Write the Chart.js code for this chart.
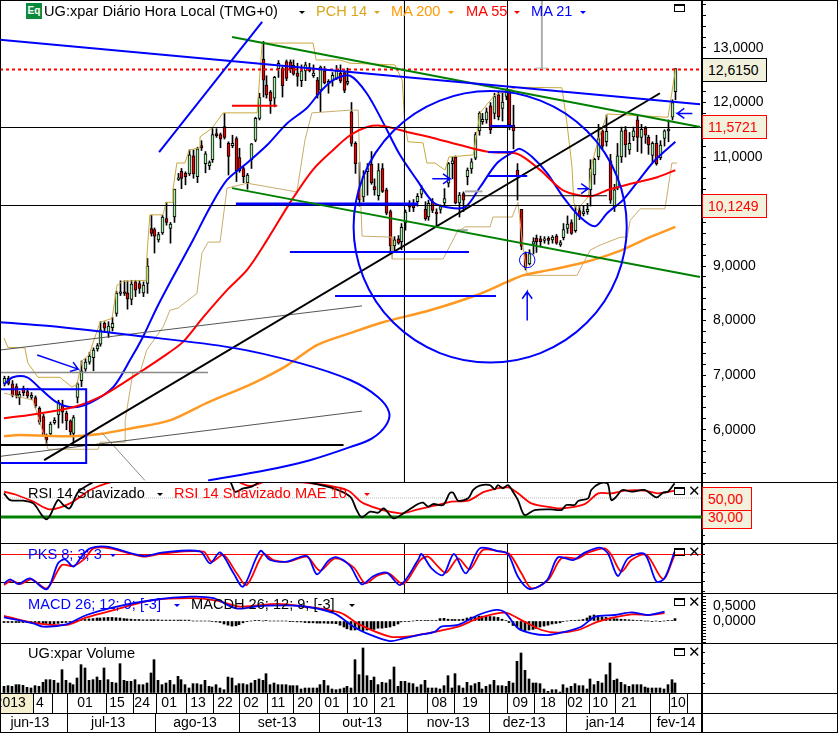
<!DOCTYPE html>
<html>
<head>
<meta charset="utf-8">
<title>UG:xpar</title>
<script src="https://cdn.jsdelivr.net/npm/chart.js@4/dist/chart.umd.min.js"></script>
<style>
    html, body { margin: 0; padding: 0; background: #fff; overflow: hidden; }
    #page { position: relative; width: 838px; height: 733px; font: 14.6px "Liberation Sans", Arial, sans-serif; }
    canvas { position: absolute; left: 0; }
    .txt { position: absolute; white-space: nowrap; line-height: 16px; z-index: 5; }
    .tri { position: absolute; z-index: 5; width: 0; height: 0; border-left: 3px solid transparent; border-right: 3px solid transparent; border-top: 3px solid; }
    .box { position: absolute; left: 702px; width: 65px; box-sizing: border-box; background: #f2f2dc; border: 1px solid #f00; color: #f00; text-align: left; padding-left: 5px; z-index: 5; font-size: 14px; }
    .win { position: absolute; left: 674px; width: 11px; height: 8px; box-sizing: border-box; border: 1px solid #000; border-top-width: 2px; z-index: 5; }
    .cls { position: absolute; left: 688px; font: bold 15px "DejaVu Sans"; line-height: 12px; z-index: 5; }
</style>
</head>
<body>
<div id="page">
    <div style="position:absolute;left:0;top:694px;width:33px;height:19px;background:#f5f0d0"></div>
    <canvas id="mainChart" width="838" height="482" style="top:0"></canvas>
    <canvas id="rsiChart" width="838" height="61" style="top:482px"></canvas>
    <canvas id="pksChart" width="838" height="50" style="top:543px"></canvas>
    <canvas id="macdChart" width="838" height="50" style="top:593px"></canvas>
    <canvas id="volChart" width="838" height="90" style="top:643px"></canvas>

    <div style="position:absolute;left:26px;top:3px;width:16px;height:16px;background:#0a8a3a;color:#fff;font:bold 10px 'Liberation Sans';line-height:16px;text-align:center;z-index:5">Eq</div>
    <div class="txt" style="left:44px;top:3px">UG:xpar Diário Hora Local (TMG+0)</div><div class="tri" style="left:299px;top:11px"></div>
    <div class="txt" style="left:316px;top:3px;color:#daa520">PCH 14</div><div class="tri" style="left:374px;top:11px;color:#daa520"></div>
    <div class="txt" style="left:391px;top:3px;color:#ff9900">MA 200</div><div class="tri" style="left:448px;top:11px;color:#ff9900"></div>
    <div class="txt" style="left:466px;top:3px;color:#f00">MA 55</div><div class="tri" style="left:514px;top:11px;color:#f00"></div>
    <div class="txt" style="left:531px;top:3px;color:#00f">MA 21</div><div class="tri" style="left:580px;top:11px;color:#00f"></div>

    <div class="txt" style="left:28px;top:485px">RSI 14 Suavizado</div><div class="tri" style="left:157px;top:493px"></div>
    <div class="txt" style="left:174px;top:485px;color:#f00">RSI 14 Suavizado MAE 10</div><div class="tri" style="left:364px;top:493px;color:#f00"></div>
    <div class="txt" style="left:28px;top:546px;color:#00f">PKS 8; 3; 3</div><div class="tri" style="left:110px;top:554px;color:#00f"></div>
    <div class="txt" style="left:28px;top:596px;color:#00f">MACD 26; 12; 9; [-3]</div><div class="tri" style="left:174px;top:604px;color:#00f"></div>
    <div class="txt" style="left:191px;top:596px">MACDH 26; 12; 9; [-3]</div><div class="tri" style="left:349px;top:604px"></div>
    <div class="txt" style="left:28px;top:645px">UG:xpar Volume</div>

    <div class="box" style="top:58px;height:24px;line-height:22px;border-color:#000;color:#000">12,6150</div>
    <div class="box" style="top:115px;height:24px;line-height:22px">11,5721</div>
    <div class="box" style="top:194px;height:24px;line-height:22px">10,1249</div>
    <div class="box" style="top:487px;width:50px;height:24px;line-height:22px">50,00</div>
    <div class="box" style="top:510px;width:50px;height:19px;line-height:13px">30,00</div>

    <div class="win" style="top:4px"></div>
    <div class="win" style="top:487px"></div><div class="cls" style="top:485px">✕</div>
    <div class="win" style="top:548px"></div><div class="cls" style="top:546px">✕</div>
    <div class="win" style="top:598px"></div><div class="cls" style="top:596px">✕</div>
    <div class="win" style="top:648px"></div><div class="cls" style="top:646px">✕</div>
</div>
<script>
// Candles, one entry per session
const open = [6.85,6.94,6.84,6.79,6.59,6.76,6.70,6.59,6.59,6.39,
    6.24,5.87,5.92,6.13,6.27,6.45,6.30,6.16,5.93,6.59,
    6.90,7.11,7.24,7.32,7.48,7.57,7.95,7.78,7.87,8.13,
    8.50,8.53,8.51,8.39,8.71,8.68,8.51,8.68,9.69,9.67,
    9.48,9.61,9.87,9.69,9.90,10.59,10.74,10.70,10.69,11.02,
    10.64,11.21,10.88,10.84,10.95,11.43,11.41,11.56,11.25,11.21,
    11.34,10.99,10.79,10.53,10.95,11.31,11.71,12.79,12.32,12.19,
    12.08,12.62,12.62,12.75,12.74,12.68,12.54,12.40,12.58,12.63,
    12.49,12.41,12.23,12.58,12.35,12.40,12.44,12.54,12.55,12.35,
    11.83,11.25,10.41,10.27,10.73,10.87,10.46,10.29,10.79,10.40,
    10.00,9.37,9.50,9.45,9.79,10.12,10.12,10.18,10.32,10.04,
    9.90,10.18,9.99,10.04,10.16,10.52,10.88,11.00,10.16,10.33,
    10.64,10.78,10.98,11.48,11.65,11.68,11.94,11.80,12.14,11.89,
    12.11,12.20,11.58,10.76,10.04,9.23,9.04,9.40,9.51,9.50,
    9.47,9.51,9.48,9.55,9.39,9.52,9.69,9.80,9.65,10.02,
    9.96,10.00,10.40,10.67,11.00,11.48,11.28,10.93,10.09,10.43,
    11.00,11.50,11.13,11.37,11.68,11.36,11.53,11.36,11.03,11.25,
    10.99,11.34,11.48,11.73,12.20];
const close = [6.94,6.85,6.63,6.63,6.65,6.68,6.62,6.63,6.44,6.14,
    5.90,5.81,6.10,6.17,6.50,6.32,6.16,5.96,6.22,6.84,
    7.08,7.24,7.35,7.46,7.54,7.83,7.86,7.90,7.95,8.50,
    8.53,8.50,8.40,8.67,8.56,8.59,8.65,9.00,9.60,9.55,
    9.58,9.90,9.80,9.77,10.41,10.62,10.61,10.64,11.04,10.69,
    11.15,11.17,11.06,10.90,11.41,11.39,11.33,11.36,11.01,11.25,
    10.75,10.75,10.64,10.67,11.24,11.71,12.09,12.41,12.14,12.03,
    12.46,12.72,12.31,12.44,12.62,12.52,12.48,12.58,12.69,12.58,
    12.54,12.14,12.65,12.36,12.39,12.50,12.58,12.39,12.22,12.39,
    11.25,10.88,10.22,10.64,10.79,10.53,10.40,10.75,10.37,9.97,
    9.37,9.48,9.42,9.71,9.99,10.08,10.07,10.28,10.41,9.87,
    10.15,10.02,9.96,10.09,10.24,10.88,10.93,10.16,10.30,10.21,
    10.76,10.91,11.41,11.80,11.69,11.83,11.50,12.11,11.74,12.01,
    12.22,11.59,11.48,10.64,9.36,8.97,9.23,9.45,9.45,9.45,
    9.50,9.47,9.53,9.42,9.43,9.67,9.77,9.60,9.98,9.91,
    10.00,10.04,10.79,10.96,11.34,11.20,11.47,10.21,10.40,11.02,
    11.48,11.22,11.25,11.48,11.36,11.51,11.40,11.22,11.25,10.88,
    11.22,11.48,11.51,12.00,12.62];
const high = [6.98,6.98,6.90,6.84,6.70,6.80,6.76,6.68,6.62,6.42,
    6.28,5.92,6.14,6.22,6.54,6.54,6.34,6.18,6.26,6.86,
    7.26,7.30,7.42,7.50,7.58,7.98,7.98,7.98,8.06,8.54,
    8.73,8.73,8.73,8.74,8.74,8.74,8.71,9.14,9.93,9.70,
    9.62,9.93,10.17,9.80,10.41,10.70,10.79,10.73,11.13,11.13,
    11.18,11.30,11.10,10.93,11.52,11.52,11.44,11.80,11.28,11.40,
    11.37,11.16,10.82,10.70,11.25,11.73,12.17,13.12,12.49,12.22,
    12.48,12.77,12.65,12.78,12.78,12.78,12.72,12.69,12.74,12.72,
    12.69,12.46,12.67,12.66,12.42,12.55,12.68,12.69,12.58,12.63,
    12.00,11.28,10.90,10.75,10.88,11.10,10.60,10.88,10.88,10.43,
    10.03,9.54,9.56,9.78,10.03,10.20,10.22,10.33,10.48,10.18,
    10.21,10.24,10.05,10.12,10.42,10.90,11.00,11.02,10.35,10.36,
    10.80,10.97,11.45,11.83,11.80,11.90,12.00,12.17,12.20,12.20,
    12.25,12.24,11.95,10.88,10.04,9.26,9.30,9.52,9.57,9.55,
    9.54,9.54,9.56,9.58,9.47,9.78,9.92,9.85,10.10,10.10,
    10.10,10.15,10.95,10.98,11.60,11.50,11.77,11.05,10.50,11.25,
    11.55,11.56,11.45,11.55,11.77,11.60,11.56,11.40,11.28,11.40,
    11.30,11.50,11.68,12.05,12.62];
const low = [6.80,6.82,6.60,6.58,6.46,6.62,6.58,6.55,6.40,6.10,
    5.88,5.72,5.88,6.10,6.03,6.12,6.00,5.90,5.78,6.49,
    6.79,7.07,7.20,7.08,7.44,7.53,7.78,7.69,7.81,8.08,
    8.46,8.46,8.21,8.29,8.44,8.50,8.44,8.50,9.55,9.24,
    9.44,9.58,9.75,9.42,9.80,10.57,10.42,10.49,10.66,10.61,
    10.53,11.12,10.71,10.77,10.90,11.36,11.17,11.33,10.67,11.17,
    10.55,10.72,10.53,10.41,10.79,11.28,11.68,12.10,12.08,11.80,
    11.92,12.46,12.10,12.40,12.55,12.50,12.30,12.29,12.40,12.56,
    12.46,12.08,11.83,12.34,12.17,12.30,12.42,12.36,12.18,12.32,
    11.20,10.70,10.10,10.18,10.30,10.50,10.30,10.21,10.35,9.94,
    9.23,9.26,9.40,9.30,9.66,10.00,10.00,10.10,10.25,9.84,
    9.84,9.98,9.72,9.97,10.10,10.45,10.60,10.14,9.90,10.00,
    10.49,10.70,10.95,11.40,11.60,11.62,11.43,11.70,11.68,11.66,
    12.05,11.50,11.15,10.21,9.30,8.93,9.02,9.22,9.25,9.37,
    9.42,9.40,9.42,9.40,9.36,9.48,9.60,9.58,9.62,9.85,
    9.92,9.95,10.10,10.50,10.95,11.15,11.20,10.15,10.00,10.40,
    10.90,11.00,11.05,11.30,11.10,11.07,11.25,11.05,10.90,10.85,
    10.95,11.20,11.28,11.68,12.05];

// Moving averages, read at knots: [session, price]
const ma21 = [[0,6.83],[2.3,6.96],[6,6.96],[9.3,6.76],[13.7,6.50],[17.9,6.41],[22.3,6.49],[28.3,6.78],[32.7,7.28],[36,7.70],[39.7,8.25],[43.8,8.80],[49,9.48],[53.4,10.08],[57.8,10.58],[63,10.89],[68.2,11.22],[73.4,11.62],[78.5,11.90],[81.9,12.19],[85.3,12.41],[89.7,12.49],[94,12.17],[98.2,11.64],[102.6,11.04],[107,10.58],[111.2,10.17],[114.8,10.08],[119.5,10.08],[123.4,10.45],[127.8,10.89],[131.9,11.09],[133.7,11.15],[136.9,11.00],[140.7,10.71],[144.9,10.27],[149.3,9.90],[153.2,9.73],[156.3,9.97],[160.4,10.21],[164.9,10.61],[168.7,10.94],[174,11.28]];
const ma55 = [[0,6.21],[7.5,6.28],[17.9,6.41],[24.9,6.60],[30.8,6.85],[36,7.09],[42.5,7.40],[46.4,7.61],[51.6,8.06],[57.8,8.56],[63,8.93],[68.2,9.48],[74.1,10.16],[80.1,10.77],[85.3,11.13],[89.7,11.40],[94.1,11.55],[98.2,11.57],[104.5,11.46],[111.2,11.35],[118.2,11.22],[126,11.09],[133,11.06],[139,10.76],[144.9,10.39],[151.9,10.28],[157,10.41],[163,10.52],[169.3,10.63],[174,10.76]];
const ma200 = [[0,5.88],[4.1,5.90],[17.9,5.88],[24.9,5.92],[33.4,6.03],[43,6.17],[52.6,6.49],[64.5,6.85],[73.4,7.18],[81.1,7.55],[89.7,7.77],[98.2,7.97],[110.4,8.19],[122.6,8.47],[130.4,8.71],[134.5,8.83],[141.5,8.93],[150,9.06],[158.9,9.26],[167.4,9.53],[174,9.72]];
const pchUpper = [[0,7.68],[1,7.51],[5.4,7.50],[6.2,7.22],[8.8,6.96],[14.5,6.96],[17.6,6.78],[18.9,6.83],[20.2,7.26],[22,7.37],[24.9,7.97],[28,8.04],[29.3,8.65],[30.8,8.72],[37,8.74],[37,9.15],[37.8,9.94],[41.2,9.94],[42,10.17],[43.8,10.17],[43.8,10.41],[44.8,10.89],[46.9,10.89],[48,11.13],[50.8,11.17],[50.8,11.37],[53.9,11.53],[56.8,11.81],[65.6,11.81],[66.9,13.09],[80.1,13.09],[80.9,12.78],[87.1,12.78],[89.7,12.72],[101.3,12.69],[103.2,12.41],[103.9,11.59],[104.7,11.28],[108.6,11.26],[109.6,10.89],[111.7,10.89],[114.3,10.76],[115.3,11.00],[121.6,11.04],[123.4,11.81],[125.2,11.97],[127.3,12.14],[133,12.28],[144.6,12.27],[145.9,11.62],[147.2,10.82],[147.7,10.16],[148.5,10.03],[151.4,10.27],[152.4,10.89],[154,11.31],[156.3,11.79],[172.1,11.73],[174,12.60]];
const pchLower = [[0,6.67],[4.1,6.60],[7.5,6.54],[10.1,5.95],[11.4,5.64],[24.4,5.64],[24.9,5.77],[31.4,5.77],[31.4,6.17],[33.4,7.04],[35.3,7.06],[37,7.46],[41.2,7.88],[43,8.19],[45.1,8.23],[50,8.50],[51.3,9.24],[52.9,9.44],[56,9.44],[57.8,10.43],[63,10.52],[75.9,10.36],[78,11.31],[79.8,11.81],[89.7,11.86],[91.8,11.86],[92.5,10.08],[92.8,9.55],[100.6,9.53],[100.6,9.13],[113.8,9.13],[117.4,9.62],[119.5,9.72],[126,9.72],[126.7,9.90],[131.7,9.90],[133.2,10.17],[134.5,9.35],[135.6,8.83],[148.5,8.83],[151.9,9.29],[154,9.37],[159.7,9.53],[161.5,9.53],[162.3,9.84],[164.9,10.05],[171.3,10.05],[173.1,10.89],[174.4,10.89]];

// Lines drawn by hand on the chart: [x1, p1, x2, p2, colour, width]
const trendLines = [
    [-1.04,13.15,180.4,11.97,'#0000ff',2],
    [40.2,11.09,66.9,13.48,'#0000ff',2],
    [59.1,13.20,180.4,11.55,'#008000',2],
    [59.1,10.43,180.4,8.80,'#008000',2],
    [59.1,11.94,70.8,11.94,'#ff0000',2],
    [60.1,10.14,107.3,10.14,'#0000ff',3],
    [74.1,9.26,120.5,9.26,'#0000ff',2],
    [85.8,8.45,127.5,8.45,'#0000ff',2],
    [126,11.57,132,11.57,'#0000ff',2],
    [125.5,11.09,132,11.09,'#0000ff',2],
    [125.5,10.65,135.6,10.65,'#0000ff',2],
    [10.4,5.44,170,12.17,'#000000',2],
    [-1.04,11.5416,180.9,11.5416,'#000000',1],
    [-1.04,10.111,180.9,10.111,'#000000',1],
    [-1.04,5.719,88,5.719,'#000000',2],
    [-1.04,7.46,92.8,8.27,'#555555',1],
    [-1.04,5.51,92.8,6.34,'#555555',1],
    [-1.04,7.05,52.9,7.05,'#888888',1.5],
    [25.4,5.94,36.5,5.07,'#888888',1],
    [119,10.29,156.3,10.29,'#000000',1],
    [103.79,13.88,103.79,5.04,'#000000',1],
    [130.49,13.88,130.49,5.04,'#000000',1],
    [139.4,13.88,139.4,12.63,'#a8b0a8',2],
    [137.8,12.63,141,12.63,'#a8b0a8',1],
    [119.5,10.37,124,10.37,'#aaaaaa',2],
    [117.4,9.66,120.2,9.66,'#aaaaaa',2],
    [-1.04,12.605,180.9,12.605,'#ff0000',2,[3,3]]
];
const blueBox = [[-1.04,6.74],[21.3,6.74],[21.3,5.39],[-1.04,5.39]];
const blueCurve = [[-1.04,7.97],[11.9,7.90],[33.4,7.73],[59.4,7.50],[76.7,7.22],[89.7,6.91],[96.9,6.60],[99.8,6.32],[99,6.08],[95.4,5.84],[89.7,5.68],[79.3,5.44],[68.2,5.26],[52.9,5.07]];
const arrows = [[8.6,7.37,19.2,7.11],[111,10.6,115.6,10.6],[148.6,10.42,151.4,10.42],[135.6,8.0,135.6,8.53],[178.4,11.8,174.5,11.8]];
// Ellipses: [centre session, centre price, radius in sessions, radius in price, width]
const ellipses = [[126,9.72,35.4,2.49,2],[135.6,9.11,2,0.14,1]];

// Lower panels, read at knots: [session, value]
const rsiLine = [[0,54.9],[1.6,47.8],[5,47.1],[7.6,44.3],[9.8,32],[11,27.5],[12,32],[14,47.8],[15.4,42.6],[17,39],[19.3,56.6],[23.2,67.1],[24.9,72.4],[42,79],[55,76],[58.6,67.1],[59.9,56.6],[62,60],[64.2,61.9],[67.2,68.9],[75,74],[78.5,67.1],[85.4,60.1],[89.7,51.4],[91.4,37.3],[92.7,29.6],[94.9,35.6],[97,34.5],[98.4,39],[101,28.5],[103.5,33.8],[107.3,43.6],[108.6,45],[109.9,40.8],[111.2,43.6],[113.8,42.6],[115.5,54.9],[116.4,55.6],[117.7,47.1],[120.3,49.6],[121.6,58.4],[123.3,62.9],[125.9,63.6],[127.2,59.1],[128,63.6],[129.3,60.1],[130.6,63.6],[131.9,56.6],[133.2,47.8],[134.9,32],[137.5,37.3],[141.9,38],[144.5,37.3],[145.7,42.6],[147.9,42.6],[148.8,46.8],[151.4,49.6],[152.2,58.4],[154.4,65.4],[156.4,65.4],[157.4,47.8],[158.7,51.4],[160.2,58.4],[162.6,56.6],[166,58.4],[169.1,50.6],[170.8,55.6],[172.1,56.6],[173.8,65.4]];
const rsiAvg = [[0,56.6],[3.3,53.1],[7.6,46.1],[11.9,38],[17.1,44.3],[22.3,58.4],[26.6,65.4],[33.5,70.7],[50.8,72.4],[59.5,68.9],[61.6,65.4],[63.8,62.6],[68.1,67.1],[78.5,66],[88.9,58.4],[93.2,44.3],[102.7,33.8],[107.3,38],[112.5,42.6],[116,46.1],[120.3,47.1],[124.6,56.6],[130.6,61.2],[133.2,54.9],[136.7,44.3],[141.9,40.1],[144.5,39],[150.5,43.6],[154,54.9],[157.4,54.9],[160.9,57.7],[166,57.7],[169.5,54.9],[173.8,57.7]];
const pksK = [[0,17],[1.6,25.7],[3.7,15.7],[6.7,27.9],[11.1,4.3],[14,60],[15.8,68.6],[18,52.9],[20.1,74.3],[22.3,92.1],[26.6,95.7],[36.1,75.7],[41.3,83.6],[50.8,85.7],[53.4,60],[56,83.6],[59.5,38.6],[62,10],[66.4,86.4],[69,67.1],[73.3,63.6],[78.5,75.7],[81.1,36.4],[84.1,65.7],[86.3,72.9],[89.7,54.3],[92.7,15],[95.8,32.9],[99.2,40],[102.7,13.6],[107.3,67],[108.2,80],[110.8,49.3],[113.8,35],[116.6,80],[119.7,38.6],[123.3,92.1],[128,86.4],[130.6,80],[133.2,31.4],[136.2,5],[140.6,22.2],[143.6,72.9],[147.5,67.1],[150.5,82.9],[154.4,93.6],[156.5,81.4],[159.1,32.9],[161.7,70.7],[166,80],[169.1,20.7],[171.2,27.9],[173.8,85]];
const pksD = [[0,13.6],[2,22.9],[4.2,15.7],[7.2,25.7],[11.1,6.5],[15,56.4],[18,54.3],[21,70.7],[23.2,92.1],[27.5,92.1],[36.1,74.3],[41.3,81.4],[51.7,85],[53.8,63.6],[56.9,77.9],[60.3,38.6],[62.9,13.6],[67.2,80],[69.8,67.1],[73.7,63.6],[78.5,74.3],[81.9,44.3],[85.8,70.7],[90.6,51.4],[93.6,17.2],[96.6,32.9],[99.7,38.6],[103.5,15.7],[107.9,67.1],[109.9,74.3],[112.5,52.9],[114.6,40],[117.7,70.7],[120.7,47.1],[124.1,88.6],[128,86.4],[131,80],[134.1,38.6],[136.7,6.5],[141,24.3],[144.5,70.7],[148.8,70.7],[151.4,82.9],[155.7,92.1],[157.4,77.9],[160,42.2],[162.6,67.1],[166.5,77.9],[170.8,26.5],[173.8,77.9]];
const macdLine = [[0,0.12],[7.6,-0.08],[10.2,-0.19],[16.2,-0.11],[21.4,0.2],[29.2,0.48],[38.7,0.7],[48.2,0.81],[54.3,0.76],[60.2,0.42],[66.4,0.5],[76.8,0.5],[85.4,0.26],[90.6,-0.19],[94,-0.41],[100,-0.67],[103.5,-0.58],[107.3,-0.47],[111.6,-0.36],[113.3,-0.19],[117.7,-0.13],[122.9,0.2],[127.6,0.37],[129.8,0.29],[133.2,-0.24],[136.7,-0.41],[141,-0.47],[145.3,-0.36],[149.6,-0.19],[153.1,0.14],[158.3,0.2],[162.6,0.29],[166.9,0.2],[171.2,0.31]];
const macdSignal = [[0,0.17],[7.6,-0.06],[16.2,-0.13],[21.4,0.12],[29.2,0.39],[37.9,0.68],[48.2,0.76],[55.1,0.68],[61.2,0.48],[70.7,0.57],[76.8,0.5],[87.1,0.28],[92.3,-0.13],[100,-0.52],[104.4,-0.52],[107.3,-0.47],[117.7,-0.19],[122.9,0.09],[129.8,0.28],[134.1,0.03],[139.3,-0.3],[143.6,-0.39],[148.8,-0.3],[154,-0.02],[162.6,0.22],[166.9,0.2],[171.2,0.26]];
const macdHist = [-.05,-.05,-.05,-.05,-.05,-.05,-.05,-.05,-.06,-.07,-.08,-.08,-.1,-.1,-.08,-.06,-.05,-.03,-.01,.02,
    .04,.05,.07,.08,.1,.1,.11,.12,.12,.11,.1,.08,.07,.06,.05,.05,.04,.04,.04,.04,.04,.03,.03,.03,.03,.03,.03,.03,.03,
    0,0,0,0,0,-.02,-.03,-.05,-.1,-.14,-.17,-.16,-.12,-.06,-.01,0,.01,.01,0,.01,0,0,0,0,0,
    -.01,-.02,-.03,-.03,-.05,-.06,-.06,-.07,-.07,-.07,-.08,-.08,-.09,-.14,-.2,-.26,-.3,-.3,-.28,-.32,-.3,-.26,-.28,-.24,-.24,-.22,-.2,-.16,
    -.1,-.03,-.02,-.02,0,.01,.02,.02,.02,.02,.02,.08,.09,.06,.05,.05,.05,.06,.1,.13,.14,.16,.16,.17,.15,.14,.12,
    .06,.02,-.05,-.15,-.2,-.3,-.32,-.3,-.28,-.25,-.2,-.17,-.14,-.1,-.08,-.06,-.02,0,.01,.01,.03,.05,.1,
    .17,.2,.18,.14,.12,.1,.08,.07,.06,.05,.04,.03,.02,.01,0,0,-.01,0,-.01,0,.01,.02,.08];
const volume = [20,22,20,25,25,23,17,15,22,20,32,40,40,38,30,70,38,30,25,45,85,75,38,40,48,38,75,40,32,30,88,38,35,35,40,25,25,30,60,100,
    38,25,30,38,25,50,40,25,15,28,28,25,38,20,18,25,15,10,48,45,22,28,28,25,30,38,42,38,58,25,30,25,25,25,22,22,22,12,15,15,
    15,15,25,38,22,12,10,12,15,20,15,100,55,135,52,38,48,25,32,30,40,78,20,35,35,30,28,18,
    25,38,15,15,15,12,22,52,15,58,22,15,32,22,28,32,12,20,25,38,22,22,20,35,30,95,120,68,42,30,
    30,28,12,5,10,10,3,25,15,20,28,22,22,12,42,25,35,30,55,90,38,42,32,25,20,25,25,25,18,15,15,15,15,12,25,40,30];

// Axis labels
const priceLabels = [6,7,8,9,10,11,12,13];
const macdLabels = [0,0.5];
const dayLabels = ['2013','4','01','15','24','01','13','22','02','11','20','01','10','21','08','19','09','18','02','10','21','10'];
const dayTicks = [1.6,9.3,21,29.3,35.8,42.8,50.3,57.3,64,71,78,85,92.3,99.5,112.8,120.8,133.8,141,148,154.5,162,174.7];
const dayEdges = [7.5,12.4,16.3,26.4,33.4,39.4,47.2,54.2,60.9,68.2,74.9,81.6,88.9,95.9,104.5,109.6,116.6,125.7,130.4,137.4,145.7,151.6,158.4,167.4,172.4,177];
const monthLabels = ['jun-13','jul-13','ago-13','set-13','out-13','nov-13','dez-13','jan-14','fev-14'];
const monthTicks = [6.7,27,49.5,70.8,92.8,115.1,134.8,155.8,174.2];
const monthEdges = [16.3,39.1,60.9,81.6,104.5,125.7,145.7,167.4];

const FONT = { family: '"Liberation Sans", Arial, sans-serif', size: 14 };
const X_MIN = -1.037, X_MAX = 180.9;
const PX_PER_BAR = 702 / (X_MAX - X_MIN);

function points(pairs) {
    return pairs.map(p => ({ x: p[0], y: p[1] }));
}

function lineSet(pairs, color, width, extra) {
    return Object.assign({
        type: 'line', data: points(pairs), borderColor: color, borderWidth: width,
        pointRadius: 0, fill: false, order: 1
    }, extra || {});
}

// Move a session onto a whole pixel so thin bars stay crisp, like the original platform
function snapBar(i, shift) {
    return (Math.round((i - X_MIN) * PX_PER_BAR) + shift) / PX_PER_BAR + X_MIN;
}

function barSet(values, color, thickness) {
    const shift = thickness % 2 ? 0.5 : 0;
    return {
        type: 'bar', data: values.map((v, i) => ({ x: snapBar(i, shift), y: v })), backgroundColor: color,
        barThickness: thickness, grouped: false, order: 5
    };
}

function xScale() {
    return { type: 'linear', min: X_MIN, max: X_MAX, offset: false, display: false };
}

// The scale keeps room for half a tick label at each end; the panels here run edge to edge
function dropPadding(s) {
    s.paddingTop = s.paddingBottom = s.paddingLeft = s.paddingRight = 0;
    if (s._margins) {
        s._margins.top = s._margins.bottom = s._margins.left = s._margins.right = 0;
    }
}

function yScale(min, max, tickValues, label, tickLength) {
    return {
        type: 'linear', position: 'right', min: min, max: max,
        afterFit: s => { dropPadding(s); s.width = 136; },
        afterBuildTicks: s => { s.ticks = tickValues.map(v => ({ value: v })); },
        grid: { drawOnChartArea: false, tickColor: '#000', tickLength: tickLength || 4 },
        border: { color: '#000', width: 2 },
        ticks: {
            autoSkip: false, padding: 7, color: '#000', font: FONT, maxRotation: 0,
            callback: label || (() => '')
        }
    };
}

function tickRange(from, to, step) {
    const out = [];
    for (let v = from; v <= to + 1e-9; v += step) out.push(Math.round(v * 1000) / 1000);
    return out;
}

// Full width rules between the panels, and the frame on the left
const panelFrame = {
    id: 'panelFrame',
    afterDraw(chart) {
        const ctx = chart.ctx;
        ctx.save();
        ctx.fillStyle = '#000';
        ctx.fillRect(0, 0, chart.width, 1);
        ctx.fillRect(0, 0, 1, chart.height);
        ctx.fillRect(chart.width - 1, 0, 1, chart.height);
        ctx.restore();
    }
};

// Ellipses drawn on the price scale
const ellipseLayer = {
    id: 'ellipseLayer',
    afterDatasetsDraw(chart) {
        const x = chart.scales.x, y = chart.scales.y, ctx = chart.ctx;
        ctx.save();
        ctx.strokeStyle = '#0000ff';
        ellipses.forEach(e => {
            const cx = x.getPixelForValue(e[0]), cy = y.getPixelForValue(e[1]);
            ctx.lineWidth = e[4];
            ctx.beginPath();
            ctx.ellipse(cx, cy, x.getPixelForValue(e[0] + e[2]) - cx, cy - y.getPixelForValue(e[1] + e[3]), 0, 0, Math.PI * 2);
            ctx.stroke();
        });
        ctx.restore();
    }
};

// Date rows under the volume panel
const dateRows = {
    id: 'dateRows',
    afterDraw(chart) {
        const x = chart.scales.x, xm = chart.scales.xm, ctx = chart.ctx;
        ctx.save();
        ctx.fillStyle = '#000';
        ctx.fillRect(0, x.top, chart.width, 1);
        ctx.fillRect(0, xm.top, chart.width, 1);
        ctx.fillRect(0, chart.height - 1, chart.width, 1);
        ctx.fillRect(701, x.top, 2, chart.height - x.top);
        dayEdges.forEach(v => ctx.fillRect(Math.round(x.getPixelForValue(v)), x.top, 1, xm.top - x.top));
        monthEdges.forEach(v => ctx.fillRect(Math.round(x.getPixelForValue(v)), xm.top, 1, chart.height - xm.top));
        ctx.restore();
    }
};

function makeChart(id, datasets, scales, plugins) {
    return new Chart(document.getElementById(id).getContext('2d'), {
        type: 'bar',
        data: { datasets: datasets },
        options: {
            responsive: false, animation: false, devicePixelRatio: 1,
            layout: { autoPadding: false, padding: 0 },
            plugins: { legend: { display: false }, tooltip: { enabled: false } },
            scales: scales
        },
        plugins: [panelFrame].concat(plugins || [])
    });
}

function arrowPath(a) {
    // tail, tip, then the two barbs of the head
    const dirX = a[2] - a[0], dirY = a[3] - a[1];
    const pxX = dirX * 3.858, pxY = dirY * 54.5, len = Math.hypot(pxX, pxY);
    const ux = pxX / len, uy = pxY / len, back = 7, side = 5;
    const barb = s => [a[2] + (-ux * back - uy * side * s) / 3.858, a[3] + (-uy * back + ux * side * s) / 54.5];
    return [[a[0], a[1]], [a[2], a[3]], barb(1), [a[2], a[3]], barb(-1)];
}

function dateAxis(tickValues, labels, weight) {
    return {
        type: 'linear', position: 'bottom', min: X_MIN, max: X_MAX, offset: false, weight: weight,
        afterFit: s => { dropPadding(s); s.height = 20; },
        afterBuildTicks: s => { s.ticks = tickValues.map(v => ({ value: v })); },
        grid: { drawOnChartArea: false, drawTicks: false },
        border: { display: false },
        ticks: {
            autoSkip: false, maxRotation: 0, padding: 2, color: '#000', font: FONT,
            callback: (v, i) => labels[i]
        }
    };
}

function initCharts() {
    const idx = open.map((_, i) => i);
    const wicks = barSet(idx.map(i => [low[i], high[i]]), '#000', 1);
    wicks.order = 9;
    const bodies = barSet(idx.map(i => [open[i], close[i]]), idx.map(i => close[i] >= open[i] ? '#a4f0a4' : '#e80000'), 3);
    bodies.borderColor = '#000';
    bodies.borderWidth = 1;
    bodies.borderSkipped = false;
    bodies.order = 8;

    const overlays = trendLines.map(t => lineSet([[t[0], t[1]], [t[2], t[3]]], t[4], t[5], t[6] ? { borderDash: t[6] } : {}));
    const arrowSets = arrows.map(a => lineSet(arrowPath(a), '#0000ff', 1.5));

    makeChart('mainChart', [
        wicks, bodies,
        lineSet(pchUpper, '#c9a83c', 1, { order: 4 }),
        lineSet(pchLower, '#c8ac6c', 1, { order: 4 }),
        lineSet(ma200, '#ff9922', 2.5, { tension: 0.3, order: 3 }),
        lineSet(ma55, '#ff0000', 2, { tension: 0.3, order: 3 }),
        lineSet(ma21, '#0000ff', 2, { tension: 0.3, order: 3 }),
        lineSet(blueCurve, '#0000ff', 2, { tension: 0.35 }),
        lineSet(blueBox.concat([blueBox[0]]), '#0000ff', 2)
    ].concat(overlays, arrowSets), {
        x: xScale(),
        y: yScale(5.04, 13.88, tickRange(5.2, 13.8, 0.2), v => priceLabels.includes(v) ? v.toFixed(4).replace('.', ',') : '')
    }, [ellipseLayer]);

    makeChart('rsiChart', [
        lineSet([[X_MIN, 50], [X_MAX, 50]], '#bbbbbb', 1, { borderDash: [1, 1], order: 2 }),
        lineSet([[X_MIN, 30], [X_MAX, 30]], '#008000', 3, { order: 2 }),
        lineSet(rsiLine, '#000', 1.8, { tension: 0.3 }),
        lineSet(rsiAvg, '#ff0000', 1.8, { tension: 0.3 })
    ], { x: xScale(), y: yScale(2.6, 66.8, tickRange(10, 60, 10), null, 3) });

    makeChart('pksChart', [
        lineSet([[X_MIN, 78.94], [X_MAX, 78.94]], '#ff0000', 1, { order: 2 }),
        lineSet([[X_MIN, 18.9], [X_MAX, 18.9]], '#000', 1, { order: 2 }),
        lineSet([[103.79, -3.6], [103.79, 103.6]], '#000', 1, { order: 2 }),
        lineSet([[130.49, -3.6], [130.49, 103.6]], '#000', 1, { order: 2 }),
        lineSet(pksK, '#0000ff', 1.8, { tension: 0.3 }),
        lineSet(pksD, '#ff0000', 1.8, { tension: 0.3 })
    ], { x: xScale(), y: yScale(-3.6, 103.6, tickRange(0, 100, 20), null, 3) });

    makeChart('macdChart', [
        barSet(macdHist, '#000', 2),
        lineSet(macdLine, '#0000ff', 1.8, { tension: 0.3 }),
        lineSet(macdSignal, '#ff0000', 1.8, { tension: 0.3 })
    ], {
        x: xScale(),
        y: yScale(-0.733, 0.933, tickRange(-0.7, 0.9, 0.1), v => macdLabels.includes(v) ? v.toFixed(4).replace('.', ',') : '', 4)
    });

    makeChart('volChart', [barSet(volume, '#000', 2)], {
        x: dateAxis(dayTicks, dayLabels, 0),
        xm: dateAxis(monthTicks, monthLabels, 1),
        y: yScale(0, 150, tickRange(0, 150, 30), null, 3)
    }, [dateRows]);
}

initCharts();
</script>
</body>
</html>
